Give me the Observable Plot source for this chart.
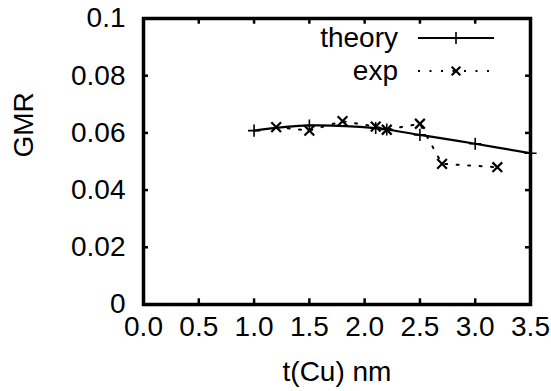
<!DOCTYPE html>
<html>
<head>
<meta charset="utf-8">
<script src="https://cdn.jsdelivr.net/npm/d3@7"></script>
<script src="https://cdn.jsdelivr.net/npm/@observablehq/plot@0.6"></script>
<style>
  html, body { margin: 0; padding: 0; background: #fff; }
  #chart svg { font-family: "Liberation Sans", Arial, sans-serif; }
</style>
</head>
<body>
<div id="chart"></div>
<script>
// Theory curve (solid line with + markers)
const theoryX = [1.0, 1.5, 2.1, 2.2, 2.5, 3.0, 3.5];
const theoryY = [0.0608, 0.0626, 0.0617, 0.0612, 0.0593, 0.0562, 0.0529];
// Experiment (dotted line with x markers)
const expX = [1.2, 1.5, 1.8, 2.1, 2.2, 2.5, 2.7, 3.2];
const expY = [0.0620, 0.0608, 0.0641, 0.0622, 0.0611, 0.0632, 0.0492, 0.0480];
// Axis ticks
const xTicks = [0, 0.5, 1.0, 1.5, 2.0, 2.5, 3.0, 3.5];
const yTicks = [0, 0.02, 0.04, 0.06, 0.08, 0.1];
const yTickLabels = ["0", "0.02", "0.04", "0.06", "0.08", "0.1"];
const seriesNames = ["theory", "exp"];

const theory = theoryX.map((x, i) => ({x, y: theoryY[i]}));
const exp = expX.map((x, i) => ({x, y: expY[i]}));

const FS = 28;
const FONT = "Liberation Sans, Arial, sans-serif";
const tickLenX = 0.045;   // in x data units (inner tick on left/right)
const tickLenY = 0.0020;  // in y data units (inner tick on top/bottom)

const plot = Plot.plot({
  width: 551,
  height: 391,
  marginLeft: 143,
  marginRight: 21,
  marginTop: 18,
  marginBottom: 87,
  style: {fontSize: FS + "px", fontFamily: FONT, background: "#fff", overflow: "visible"},
  x: {domain: [0, 3.5], axis: null},
  y: {domain: [0, 0.1], axis: null},
  marks: [
    // inner ticks bottom & top
    Plot.ruleX(xTicks, {x: d => d, y1: 0, y2: tickLenY, stroke: "#000", strokeWidth: 2.5}),
    Plot.ruleX(xTicks, {x: d => d, y1: 0.1, y2: 0.1 - tickLenY, stroke: "#000", strokeWidth: 2.5}),
    // inner ticks left & right
    Plot.ruleY(yTicks, {y: d => d, x1: 0, x2: tickLenX, stroke: "#000", strokeWidth: 2.5}),
    Plot.ruleY(yTicks, {y: d => d, x1: 3.5, x2: 3.5 - tickLenX, stroke: "#000", strokeWidth: 2.5}),
    // tick labels as text marks positioned by the scales
    Plot.text(xTicks, {x: d => d, frameAnchor: "bottom", text: d => d3.format(".1f")(d), lineAnchor: "top", dy: 12, fontSize: FS, fill: "#000"}),
    Plot.text(yTicks, {y: d => d, frameAnchor: "left", text: (d, i) => yTickLabels[i], textAnchor: "end", dx: -18, fontSize: FS, fill: "#000"}),
    Plot.line(exp, {x: "x", y: "y", stroke: "#000", strokeWidth: 2, strokeDasharray: "2,9.5"}),
    Plot.dot(exp, {x: "x", y: "y", symbol: "times", r: 4.5, stroke: "#000", strokeWidth: 2.2}),
    Plot.line(theory, {x: "x", y: "y", stroke: "#000", strokeWidth: 2.2, curve: "catmull-rom", clip: true}),
    Plot.dot(theory, {x: "x", y: "y", symbol: "plus", r: 4.0, stroke: "#000", strokeWidth: 1.6}),
    Plot.frame({stroke: "#000", strokeWidth: 3.5}),
    Plot.text(["t(Cu) nm"], {frameAnchor: "bottom", dy: 76, fontSize: FS, fill: "#000"}),
    Plot.text(["GMR"], {frameAnchor: "left", dx: -119, dy: -4, rotate: -90, fontSize: FS, fill: "#000"})
  ]
});

// Legend (inside plot, top-right), drawn with d3 into the SVG
const svg = d3.select(plot);
const leg = svg.append("g").attr("font-size", FS).attr("font-family", FONT);
const rows = [
  {name: seriesNames[0], y: 38, dash: null, sym: d3.symbolPlus, sw: 1.6},
  {name: seriesNames[1], y: 71, dash: "2,9.5", sym: d3.symbolTimes, sw: 2.2}
];
rows.forEach(r => {
  leg.append("text").attr("x", 398).attr("y", r.y).attr("dy", "0.32em").attr("text-anchor", "end").attr("fill", "#000").text(r.name);
  leg.append("line").attr("x1", 418).attr("x2", 494).attr("y1", r.y).attr("y2", r.y)
    .attr("stroke", "#000").attr("stroke-width", 2.2).attr("stroke-dasharray", r.dash);
  leg.append("path").attr("transform", `translate(456,${r.y})`)
    .attr("d", d3.symbol(r.sym, Math.PI * 4.0 * 4.0)())
    .attr("fill", "none").attr("stroke", "#000").attr("stroke-width", r.sw);
});

document.getElementById("chart").appendChild(plot);
</script>
</body>
</html>
